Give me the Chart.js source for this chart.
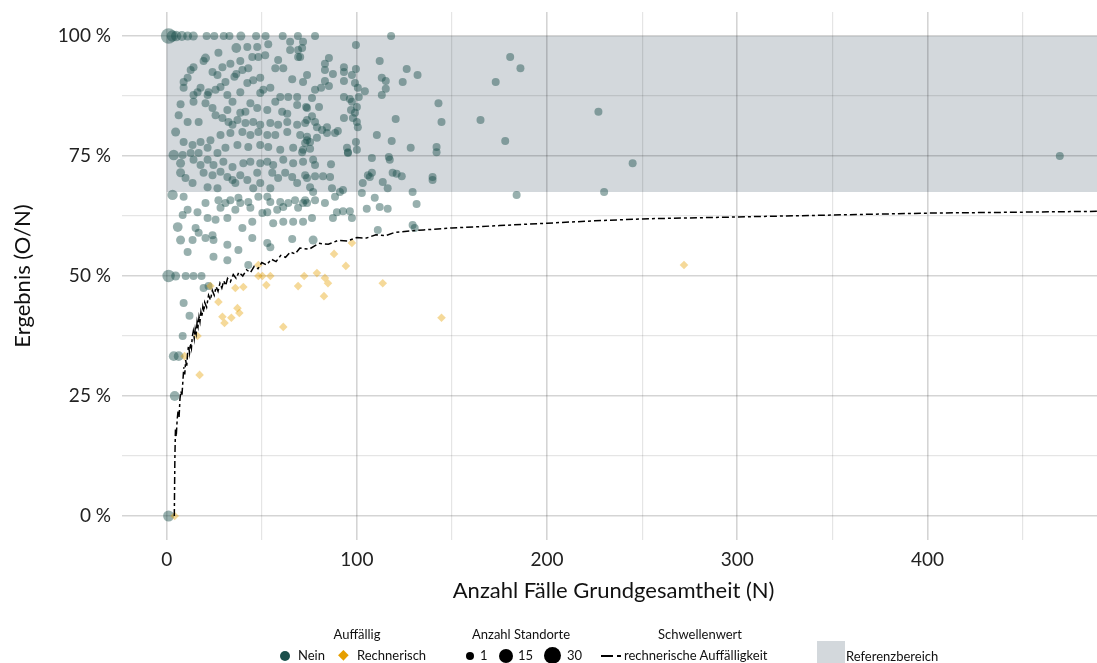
<!DOCTYPE html>
<html lang="de">
<head>
<meta charset="utf-8">
<title>Ergebnis (O/N)</title>
<script src="https://cdn.jsdelivr.net/npm/chart.js@4.4.1/dist/chart.umd.min.js"></script>
<style>
  html, body { margin: 0; padding: 0; overflow: hidden; background: #fff; }
  #wrap { position: relative; width: 1113px; height: 663px; }
  #chart-scatter { position: absolute; left: 0; top: 0; }
  .lg { position: absolute; font-family: Lato, "Open Sans", sans-serif; font-size: 13px; color: #111; white-space: nowrap; line-height: 16px; }
  .lg-title { transform: translateX(-50%); }
  .dot { position: absolute; border-radius: 50%; background: #1b4f4b; }
</style>
</head>
<body>
<div id="wrap">
  <canvas id="chart-scatter" width="1113" height="663"></canvas>

  <!-- Legende -->
  <div class="lg lg-title" style="left:357px; top:626px;">Auffällig</div>
  <div class="dot" style="left:280px; top:651px; width:10px; height:10px;"></div>
  <div class="lg" style="left:298px; top:647px;">Nein</div>
  <div class="lg" style="left:338px; top:646px; color:#e69f00; font-size:14px;">◆</div>
  <div class="lg" style="left:357px; top:647px;">Rechnerisch</div>

  <div class="lg lg-title" style="left:521px; top:626px;">Anzahl Standorte</div>
  <div class="dot" style="left:466px; top:652px; width:8px; height:8px; background:#000;"></div>
  <div class="lg" style="left:480px; top:647px;">1</div>
  <div class="dot" style="left:499px; top:649px; width:14px; height:14px; background:#000;"></div>
  <div class="lg" style="left:518px; top:647px;">15</div>
  <div class="dot" style="left:544px; top:647px; width:17px; height:17px; background:#000;"></div>
  <div class="lg" style="left:567px; top:647px;">30</div>

  <div class="lg lg-title" style="left:700px; top:626px;">Schwellenwert</div>
  <div style="position:absolute; left:601px; top:655px; width:12px; height:2px; background:#000;"></div>
  <div style="position:absolute; left:617px; top:655px; width:4px; height:2px; background:#000;"></div>
  <div class="lg" style="left:624px; top:647px;">rechnerische Auffälligkeit</div>

  <div style="position:absolute; left:817px; top:641px; width:28px; height:22px; background:#d3d8dc;"></div>
  <div class="lg" style="left:846px; top:648px;">Referenzbereich</div>
</div>

<script>
/*  ╔══════════════════════════════════════════════════════════════╗
    ║                            DATA                              ║   */
// [N, Ergebnis in %, Anzahl Standorte]
const neinPoints = [
  [1,100,17],[3,100,6],[5,100,4],[8,100,3],[11,100,2],[14,100,2],[21,100,1],[25,100,1],[30,100,1],[33,100,1],
  [39,100,2],[47,100,1],[52,100,1],[61,100,1],[69,100,1],[78,100,1],[118,100,1],
  [36.6,97.5,3],[42.4,97.7,1],[47.6,97.7,1],[53.4,98.3,1],[64.9,97.1,1],[69.1,97.1,1],[71.7,98.8,1],[64.9,98.8,1],
  [27.2,96.5,1],[20.4,95.4,2],[19.4,94.8,1],[45,95.6,1],[48.2,95.6,1],[51.8,96,1],[58.6,95,1],[69.1,95.6,1],
  [38.7,94.8,1],[14.1,93.5,1],[12.6,92.9,1],[29.3,93.5,1],[33.5,94.2,1],[42.9,93.3,1],[39.8,92.9,1],[57.1,93.3,1],
  [61.3,93.3,1],[24.1,92.5,1],[26.7,91.9,1],[36.6,92.1,1],[35.6,91.5,1],[11,91.3,1],[8.9,90.4,1],[66,91,1],
  [71.7,90.4,1],[73.8,91.9,1],[49.2,91.3,1],[45.5,90.8,1],[42.4,90.2,1],[30.9,90.4,1],[28.3,89.4,1],[25.7,88.8,1],
  [22,88.3,1],[21.5,87.7,1],[17.8,89.2,1],[16.2,88.3,1],[14.1,87.7,1],[14.1,86.3,1],[8.9,89.2,1],[54.5,89.2,1],
  [50.8,88.8,1],[49.2,88.1,1],[59.7,87.3,1],[63.9,87.3,1],[68.6,87.3,1],[68.6,85.6,1],[73.8,85,1],[31.9,87.7,1],
  [38.7,88.3,1],[7.3,85.8,1],[20.4,86,1],[24.1,85,1],[34.6,86.3,1],[31.9,84.6,1],[44,86,1],[41.4,84.2,1],
  [38.7,84,1],[47.6,85,1],[52.9,84.6,1],[57.1,86.3,1],[60.7,84.2,1],[63.4,83.8,1],[6.3,83.5,1],[11,82.1,1],
  [16.8,82.1,1],[25.7,83.5,1],[29.3,82.9,1],[32.5,82.1,1],[37.2,82.5,1],[34.6,81.5,1],[41.4,81.9,1],[45.5,82.1,1],
  [49.2,81.5,1],[54.5,81.9,1],[58.6,81.5,1],[63.4,82.1,1],[68.6,81.5,1],[72.8,81.9,1],[4.7,80,2],[8.9,77.9,1],
  [13.6,77.3,1],[17.8,77.9,1],[23,78.3,1],[28.3,79.4,1],[33.5,79.8,1],[39.8,80,1],[44,79.4,1],[48.2,80,1],
  [52.9,79.4,1],[57.1,79.4,1],[63.4,80,1],[70.2,79.4,1],[73.8,78.3,1],[3.7,75.2,4],[8.4,75.2,1],[12.6,75.6,1],
  [16.8,75.6,1],[21.5,76.7,1],[26.7,75.6,1],[30.9,76.7,1],[37.2,77.3,1],[42.9,76.9,1],[49.2,77.3,1],[53.4,76.9,1],
  [59.7,76.3,1],[66.5,76.7,1],[71.2,75.8,1],
  [71.2,97.5,1],[70.2,95.6,1],[99.5,98.1,1],[85.3,95.4,1],[83.2,94.2,1],[83.2,92.9,1],[87.4,92.1,1],[93.2,93.5,1],
  [93.2,92.5,1],[99.5,93.1,1],[97.4,91.9,1],[112,94.8,1],[126.2,93.1,1],[131.9,91.9,1],[113.1,91.3,1],[115.2,90.6,1],
  [124.1,90.4,1],[83.2,90.6,1],[85.3,89.6,1],[81.2,89.2,1],[78,88.8,1],[93.2,90.6,1],[99,90.2,1],[100.5,89.2,1],
  [104.2,88.5,1],[115.2,89,1],[113.1,87.7,1],[93.2,87.3,1],[96.3,86.9,1],[101,87.3,1],[97.4,86.3,1],[100,85.2,1],
  [96.9,84.6,1],[99,84,1],[93.2,82.9,1],[76.4,87.1,1],[73.3,85.2,1],[80.1,85.2,1],[142.9,86,1],[144.5,82.1,1],
  [120.4,82.7,1],[100,82.1,1],[100.5,81,1],[97.9,82.9,1],[76.4,83.3,1],[73.8,82.5,1],[78,82.1,1],[79,81,1],
  [84.3,81,1],[81.7,80.4,1],[84.3,79.8,1],[88.5,79.8,1],[90,80.2,1],[73.8,79,1],[75.4,77.9,1],[72.8,77.7,1],
  [71.7,76.3,1],[75.4,76.5,1],[79,78.8,1],[110.5,79.4,1],[118.3,78.1,1],[128.3,76.7,1],[141.9,76.9,1],[99.5,77.9,1],
  [94.8,76.7,1],[95.3,75.8,1],[100,76.3,1],[107.9,74.6,1],[116.8,74.8,1],
  [7.3,73.5,2],[14.1,74.2,1],[17.8,73.1,1],[21.5,74.2,1],[24.6,73.1,1],[29.8,73.8,1],[34.6,72.7,1],[40.3,73.5,1],
  [44,73.8,1],[49.2,73.5,1],[52.9,73.8,1],[56,73.1,1],[61.3,74.2,1],[66.5,73.5,1],[71.7,73.8,1],
  [7.3,71.5,2],[9.9,70.4,1],[13.6,69.4,1],[19.4,71.5,1],[24.1,71,1],[28.3,71.7,1],[31.9,70.6,1],[34.6,70,1],
  [36.1,69.4,1],[38.7,71,1],[42.4,70,1],[47.6,71.5,1],[49.2,69.4,1],[55.5,71.5,1],[58.6,70.4,1],[62.3,71.5,1],
  [66,70.6,1],[68.6,69.4,1],[72.8,71,1],[21.5,68.5,1],[26.7,68.3,1],[45.5,68.3,1],[54.5,68.3,1],
  [3.1,66.9,4],[8.9,66.5,1],[20.4,65.2,1],[27.2,65.8,1],[30.9,65.2,1],[33.5,65.8,1],[37.7,66.3,1],[38.7,65.2,1],
  [42.9,65.4,1],[48.2,66.5,1],[52.9,66.5,1],[54.5,65.4,1],[59.7,65.4,1],[63.9,65.2,1],[67.5,65.8,1],[71.7,65.2,1],
  [11,63.8,1],[8.4,62.7,1],[16.2,63.3,1],[28.3,64.2,1],[36.1,63.8,1],[44,64.2,1],[50.3,63.1,1],[52.9,63.3,1],
  [58.1,63.8,1],[61.3,64.4,1],[69.1,64.2,1],[73.8,65.2,1],
  [21.5,62.1,1],[25.7,61.7,1],[31.9,62.1,1],[5.8,60.2,3],[15.2,60,1],[16.8,59,1],[39.8,60,1],[45,61.3,1],
  [56,61,1],[61.3,61.3,1],[66.5,61.3,1],[71.7,61.3,1],
  [7.3,57.5,2],[13.6,57.5,1],[20.4,57.9,1],[24.1,58.5,1],[24.6,57.5,1],[31.9,56.5,1],[45,57.9,1],[52.9,56.9,1],
  [54.5,56,1],[66,57.7,1],[11,55,1],[24.6,54,1],[31.9,53.3,1],[37.7,55.4,1],[42.9,52.3,1],
  [1,50,8],[4.7,50,2],[10,50,1],[14.1,50,1],[18.3,50,1],[19.4,47.5,1],[22,47.9,1],
  [8.9,44.4,1],[12,41.7,1],[8.4,37.5,1],[3.7,33.3,3],[6.3,33.3,3],[4.2,25,3],[1,0,5],
  [77,74.2,1],[78,73.1,1],[86.4,73.3,1],[95.3,75.6,1],[117.3,74.2,1],[141.9,75.8,1],
  [73.8,70.4,1],[78,70.8,1],[82.2,70.8,1],[85.9,70.6,1],[86.9,68.3,1],[75.4,68.5,1],[77,67.5,1],[78,65.8,1],
  [72.8,65.8,1],[83.2,65.2,1],[88.5,66.5,1],[91.1,67.5,1],[92.7,67.9,1],
  [103.1,69.4,1],[105.8,71,1],[107.9,71.5,1],[106.8,70.6,1],[113.6,69.6,1],[116.2,68.3,1],[118.8,71.5,1],[120.9,71.3,1],
  [123.6,70.8,1],[129.3,67.5,1],[139.8,70.6,1],[139.8,70,1],
  [102.6,67.3,1],[109.4,66.3,1],[112,64.4,1],[116.2,64,1],[131.4,65,1],[105.2,64,1],
  [89.5,63.3,1],[92.7,63.5,1],[96.3,63.5,1],[97.4,62.1,1],[87.4,62.1,1],[76.4,62.1,1],
  [111,59.6,1],[129.3,60.6,1],[130.4,60,1],[77,57.5,2],
  [165,82.5,1],[178,78.1,1],[227,84.2,1],[245,73.5,1],[184,66.9,1],[230,67.5,1],[469.6,75,1],
  [173,90.4,1],[180.6,95.6,1],[186,93.3,1],
];
// [N, Ergebnis in %]
const rechnerischPoints = [
  [4.2,0],[17.3,29.4],[9.4,33.3],[16.2,37.5],[27.2,44.6],[29.3,41.5],[30.4,40.2],[34,41.3],[37.2,43.3],[38.2,42.3],
  [23,47.9],[36.1,47.5],[40.3,47.7],[48.2,50],[50.3,50],[54.5,50],[52.4,48.1],[61.3,39.4],[69.1,47.9],[72.3,50],
  [79,50.6],[83.2,49.6],[84.8,48.5],[88,54.6],[94.2,52.1],[97.4,56.9],[113.6,48.5],[144.5,41.3],[272,52.3],
  [82.7,45.8],[48.2,52.3],
];
// Schwellenwert rechnerische Auffälligkeit [N, %]
const thresholdPoints = [
  [4,0],[4.3,12],[4.6,18],[5,16.5],[5.5,20],[6,22],[6.5,20.5],[7,24.5],[7.5,26],[8,25],[8.5,28],[9,31],[9.5,29.5],
  [10,32.5],[10.5,31],[11,34],[11.5,35.5],[12,34],[12.5,36],[13,35],[13.5,37.5],[14,38.5],[14.5,37],[15,39],
  [15.5,38],[16,40.5],[16.5,39.5],[17,41.5],[17.5,40.5],[18,42.5],[18.5,41.5],[19,43.5],[19.5,42.5],[20,44.5],
  [21,43.5],[22,46],[23,45],[24,47],[25,46],[26,47.8],[27,46.8],[28,48.5],[29,47.5],[30,49],[31,48],[32,49.5],
  [33.5,48.8],[35,50.3],[36.5,49.5],[38,50.8],[40,50],[42,51.3],[44,50.7],[46,52],[48,51.5],[50,52.8],[52.5,52.3],
  [55,53.5],[57.5,53],[60,54.3],[62.5,53.9],[65,55],[67.5,54.6],[70,55.8],[75,55.6],[80,56.8],[85,56.6],[90,57.4],
  [95,57.3],[100,58],[105,57.9],[110,58.6],[115,58.4],[120,59.1],[135,59.6],[150,60],[175,60.5],[200,61],
  [225,61.5],[250,61.9],[275,62.1],[300,62.3],[350,62.7],[400,63.1],[450,63.3],[495,63.5],
];
const referenzbereich = [67.5, 100]; // von, bis in %
const xTicks = [0, 50, 100, 150, 200, 250, 300, 350, 400, 450];
const yTicks = [0, 12.5, 25, 37.5, 50, 62.5, 75, 87.5, 100];
/*  ╚══════════════════════════════════════════════════════════════╝  */

const FONT = "Lato, 'Open Sans', sans-serif";
const GRID_MAJOR = "rgba(0,0,0,0.17)";
const GRID_MINOR = "rgba(0,0,0,0.1)";

// grauer Referenzbereich unter dem Gitter
const refPlugin = {
  id: "referenzbereich",
  beforeDraw(chart) {
    const { ctx, chartArea, scales } = chart;
    const x0 = scales.x.getPixelForValue(0);
    const yTop = scales.y.getPixelForValue(referenzbereich[1]);
    const yBot = scales.y.getPixelForValue(referenzbereich[0]);
    ctx.save();
    ctx.fillStyle = "#d3d8dc";
    ctx.fillRect(x0, yTop, chartArea.right - x0, yBot - yTop);
    ctx.restore();
  },
};

const canvas = document.getElementById("chart-scatter");
new Chart(canvas.getContext("2d"), {
  type: "scatter",
  data: {
    datasets: [
      {
        label: "rechnerische Auffälligkeit",
        data: thresholdPoints.map((p) => ({ x: p[0], y: p[1] })),
        showLine: true,
        borderColor: "#000",
        borderWidth: 1.5,
        borderDash: [7, 3, 3, 3],
        pointRadius: 0,
        tension: 0,
        order: 0,
      },
      {
        label: "Rechnerisch",
        data: rechnerischPoints.map((p) => ({ x: p[0], y: p[1] })),
        pointStyle: "rectRot",
        pointRadius: 4.3,
        backgroundColor: "rgba(230,159,0,0.4)",
        borderWidth: 0,
        order: 1,
      },
      {
        label: "Nein",
        data: neinPoints.map((p) => ({ x: p[0], y: p[1], s: p[2] })),
        backgroundColor: "rgba(27,79,75,0.45)",
        borderWidth: 0,
        pointRadius: (c) => 2.8 + 1.2 * Math.sqrt(c.raw ? c.raw.s : 1),
        order: 2,
      },
    ],
  },
  options: {
    responsive: false,
    animation: false,
    events: [],
    layout: { padding: { top: 12, left: 0, right: 0, bottom: 48 } },
    plugins: { legend: { display: false }, tooltip: { enabled: false } },
    scales: {
      x: {
        type: "linear",
        min: -23.5,
        max: 493.5,
        afterBuildTicks: (s) => { s.ticks = xTicks.map((v) => ({ value: v })); },
        afterFit: (s) => { s.height = 75; s.paddingLeft = 0; s.paddingRight = 0; },
        border: { display: false },
        grid: {
          drawTicks: false,
          color: (c) => (c.tick && c.tick.value % 100 === 0 ? GRID_MAJOR : GRID_MINOR),
          lineWidth: (c) => (c.tick && c.tick.value % 100 === 0 ? 1.6 : 1.2),
        },
        ticks: {
          padding: 8,
          color: "#222",
          font: { family: FONT, size: 19 },
          maxRotation: 0,
          autoSkip: false,
          callback: (v) => (v % 100 === 0 ? String(v) : ""),
        },
        title: {
          display: true,
          text: "Anzahl Fälle Grundgesamtheit (N)",
          color: "#111",
          font: { family: FONT, size: 22 },
          padding: { top: 0, bottom: 11 },
        },
      },
      y: {
        type: "linear",
        min: -5,
        max: 105,
        afterBuildTicks: (s) => { s.ticks = yTicks.map((v) => ({ value: v })); },
        afterFit: (s) => { s.width = 122; s.paddingTop = 0; s.paddingBottom = 0; },
        border: { display: false },
        grid: {
          drawTicks: false,
          color: (c) => (c.tick && c.tick.value % 25 === 0 ? GRID_MAJOR : GRID_MINOR),
          lineWidth: (c) => (c.tick && c.tick.value % 25 === 0 ? 1.6 : 1.2),
        },
        ticks: {
          padding: 11,
          color: "#222",
          font: { family: FONT, size: 19 },
          autoSkip: false,
          callback: (v) => (v % 25 === 0 ? v + " %" : ""),
        },
        title: {
          display: true,
          text: "Ergebnis (O/N)",
          color: "#111",
          font: { family: FONT, size: 22 },
          padding: { top: 10, bottom: 0 },
        },
      },
    },
  },
  plugins: [refPlugin],
});
</script>
</body>
</html>
